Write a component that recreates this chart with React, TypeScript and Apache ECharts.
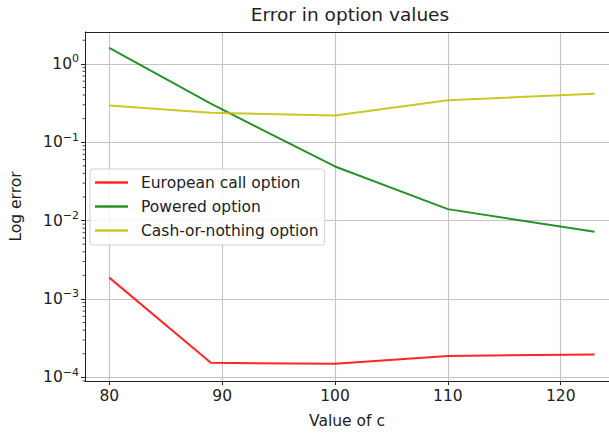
import React, { useEffect, useRef } from "react";
import * as echarts from "echarts";

const xValues = [80, 89, 100, 110, 123];
const europeanCall = [1.87e-3, 1.53e-4, 1.49e-4, 1.87e-4, 1.96e-4];
const powered = [1.6, 0.31, 0.049, 0.014, 0.0072];
const cashOrNothing = [0.294, 0.237, 0.219, 0.344, 0.415];
const xTicks = [80, 90, 100, 110, 120];
const yTicks = [1e-4, 1e-3, 1e-2, 1e-1, 1];
const minorTicks: number[] = [];
for (let e = -5; e <= 0; e++) {
  for (let m = 2; m <= 9; m++) {
    minorTicks.push(m * Math.pow(10, e));
  }
}

const X_MIN = 77.85;
const X_MAX = 77.85 + (609 - 83) / 11.33;
const Y_MIN = Math.pow(10, -4.047);
const Y_MAX = Math.pow(10, 0.406);
const FONT = "DejaVu Sans";
const TXT = "#222";
const FS = 15.5;

export default function App() {
  const ref = useRef<HTMLDivElement>(null);
  useEffect(() => {
    if (!ref.current) return;
    const chart = echarts.init(ref.current, null, { renderer: "svg" });
    const mk = (arr: number[]) => xValues.map((x, i) => [x, arr[i]]);
    const lineSeries = (name: string, data: number[], color: string) => ({
      name,
      type: "line",
      xAxisIndex: 0,
      data: mk(data),
      showSymbol: false,
      symbol: "none",
      lineStyle: { color, width: 2, opacity: 0.85 },
      itemStyle: { color, opacity: 0.85 },
      z: 3,
    });
    chart.setOption({
      animation: false,
      title: {
        text: "Error in option values",
        left: 350,
        textAlign: "center",
        top: 5,
        padding: 0,
        textStyle: { fontFamily: FONT, fontSize: 18.5, fontWeight: "normal", color: TXT },
      },
      grid: { left: 83, top: 32, right: 0, bottom: 53, show: false },
      legend: {
        orient: "vertical",
        left: 90,
        top: 169,
        data: ["European call option", "Powered option", "Cash-or-nothing option"],
        icon: "rect",
        itemWidth: 33,
        itemHeight: 2.5,
        itemGap: 7,
        padding: [5, 6, 6, 5],
        backgroundColor: "rgba(255,255,255,0.85)",
        borderColor: "#d0d0d0",
        borderWidth: 1,
        borderRadius: 3,
        textStyle: { fontFamily: FONT, fontSize: FS, color: TXT, lineHeight: 17, padding: [0, 0, 0, 8] },
        z: 10,
      },
      xAxis: [
        {
          type: "value",
          position: "bottom",
          min: X_MIN,
          max: X_MAX,
          name: "Value of c",
          nameLocation: "middle",
          nameGap: 32,
          nameTextStyle: { fontFamily: FONT, fontSize: FS, color: TXT },
          axisLine: { show: true, lineStyle: { color: "#222", width: 1 } },
          axisTick: { show: true, length: 4, customValues: xTicks, lineStyle: { color: "#222" } },
          axisLabel: { customValues: xTicks, margin: 7, fontFamily: FONT, fontSize: FS, color: TXT },
          splitLine: { show: true, lineStyle: { color: "#c4c4c4", width: 1.1 } },
        },
        {
          type: "value",
          position: "top",
          min: X_MIN,
          max: X_MAX,
          axisLine: { show: true, onZero: false, lineStyle: { color: "#222", width: 1 } },
          axisTick: { show: false },
          axisLabel: { show: false },
          splitLine: { show: false },
        },
      ],
      yAxis: {
        type: "log",
        logBase: 10,
        min: Y_MIN,
        max: Y_MAX,
        name: "Log error",
        nameLocation: "middle",
        nameGap: 61,
        nameTextStyle: { fontFamily: FONT, fontSize: FS, color: TXT },
        axisLine: { show: true, lineStyle: { color: "#222", width: 1 } },
        axisTick: { show: true, length: 4, customValues: yTicks, lineStyle: { color: "#222" } },
        axisLabel: {
          customValues: yTicks,
          margin: 6,
          fontFamily: FONT,
          color: TXT,
          formatter: (val: number) => {
            const e = Math.round(Math.log10(val));
            return "{b|10}{s|" + (e < 0 ? "\u2212" + -e : String(e)) + "}";
          },
          rich: {
            b: { fontFamily: FONT, fontSize: FS, color: TXT },
            s: { fontFamily: FONT, fontSize: 11, color: TXT, padding: [0, 0, 10, 0] },
          },
        },
        splitLine: { show: true, lineStyle: { color: "#c4c4c4", width: 1.1 } },
      },
      series: [
        lineSeries("European call option", europeanCall, "#ff0000"),
        lineSeries("Powered option", powered, "#008000"),
        lineSeries("Cash-or-nothing option", cashOrNothing, "#bfbf00"),
        {
          type: "custom",
          name: "minorTicks",
          xAxisIndex: 0,
          clip: false,
          silent: true,
          data: minorTicks.filter((v) => v >= Y_MIN && v <= Y_MAX).map((v) => [X_MIN, v]),
          renderItem: (_params: any, api: any) => {
            const p = api.coord([api.value(0), api.value(1)]);
            return {
              type: "line",
              shape: { x1: p[0] - 2.5, y1: p[1], x2: p[0], y2: p[1] },
              style: { stroke: "#222", lineWidth: 0.8 },
            };
          },
          z: 4,
        },
      ],
    });
    return () => chart.dispose();
  }, []);
  return (
    <div
      ref={ref}
      style={{ position: "fixed", left: 0, top: 0, width: 609, height: 434, background: "#fff" }}
    />
  );
}
